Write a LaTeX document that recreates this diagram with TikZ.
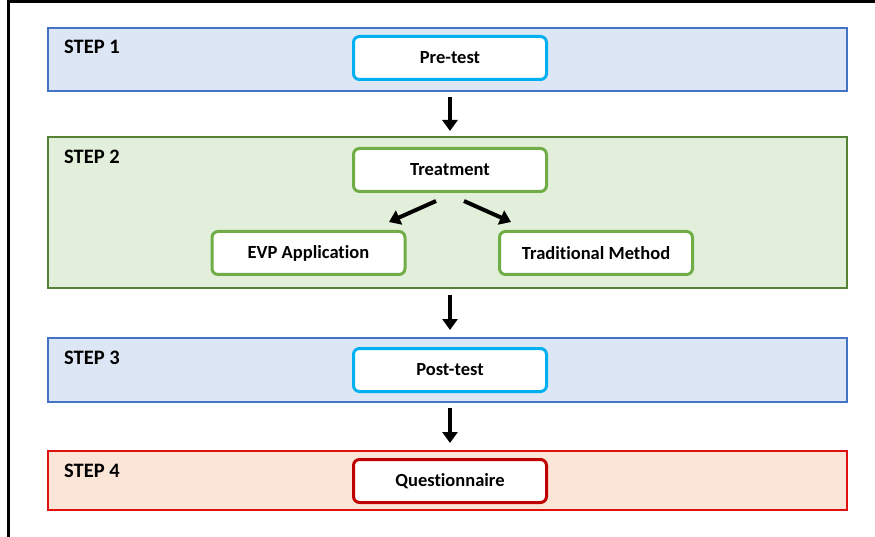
\documentclass[tikz,border=0pt]{standalone}
\usepackage{fontspec}
\setmainfont[Ligatures=NoCommon]{Carlito}
\usetikzlibrary{arrows.meta}
\definecolor{bandblue}{HTML}{DCE6F4}
\definecolor{edgeblue}{HTML}{4472C4}
\definecolor{bandgreen}{HTML}{E2EFDA}
\definecolor{edgegreen}{HTML}{548235}
\definecolor{boxgreen}{HTML}{70AD47}
\definecolor{bandred}{HTML}{FBE5D6}
\definecolor{edgered}{HTML}{E01010}
\definecolor{boxred}{HTML}{C00000}
\definecolor{boxcyan}{HTML}{00B0F0}
\tikzset{
  band/.style={line width=2pt},
  stepbox/.style={draw, line width=3pt, fill=white, rounded corners=6pt,
    minimum width=193pt, minimum height=43pt, inner sep=0pt,
    font=\fontsize{18.5}{20}\selectfont\bfseries},
  steplabel/.style={anchor=west, inner sep=0pt, font=\fontsize{20.5}{22}\selectfont\bfseries},
  flow/.style={line width=4pt, -{Triangle[width=15pt,length=11pt]}}
}
\begin{document}
\begin{tikzpicture}[x=1pt,y=-1pt]
\useasboundingbox (0,0) rectangle (875,537);
% frame (cropped)
\draw[line width=3pt] (8,540) -- (8,2) -- (878,2);
% bands
\draw[band, draw=edgeblue, fill=bandblue] (48,28) rectangle (847,91);
\draw[band, draw=edgegreen, fill=bandgreen] (48,137) rectangle (847,288);
\draw[band, draw=edgeblue, fill=bandblue] (48,338) rectangle (847,402);
\draw[band, draw=edgered, fill=bandred] (48,451) rectangle (847,510);
% labels
\node[steplabel] (s1) at (64,47) {STEP 1};
\node[steplabel] (s2) at (64,157) {STEP 2};
\node[steplabel] (s3) at (64,358) {STEP 3};
\node[steplabel] (s4) at (64,471) {STEP 4};
% boxes
\node[stepbox, draw=boxcyan] (pre) at (450,58) {Pre-test};
\node[stepbox, draw=boxgreen] (treat) at (450,170) {Treatment};
\node[stepbox, draw=boxgreen] (evp) at (308.5,253) {EVP Application};
\node[stepbox, draw=boxgreen] (trad) at (596,253) {Traditional Method};
\node[stepbox, draw=boxcyan] (post) at (450,370) {Post-test};
\node[stepbox, draw=boxred] (quest) at (450,481) {Questionnaire};
% arrows
\coordinate (a1s) at (450,97);  \coordinate (a1e) at (450,131);
\coordinate (a2s) at (450,295); \coordinate (a2e) at (450,330);
\coordinate (a3s) at (450,408); \coordinate (a3e) at (450,443);
\draw[flow] (a1s) -- (a1e);
\draw[flow] (a2s) -- (a2e);
\draw[flow] (a3s) -- (a3e);
\coordinate (d1s) at (436,201); \coordinate (d1e) at (389,222);
\coordinate (d2s) at (464,201); \coordinate (d2e) at (511,222);
\draw[flow] (d1s) -- (d1e);
\draw[flow] (d2s) -- (d2e);
\end{tikzpicture}
\end{document}
